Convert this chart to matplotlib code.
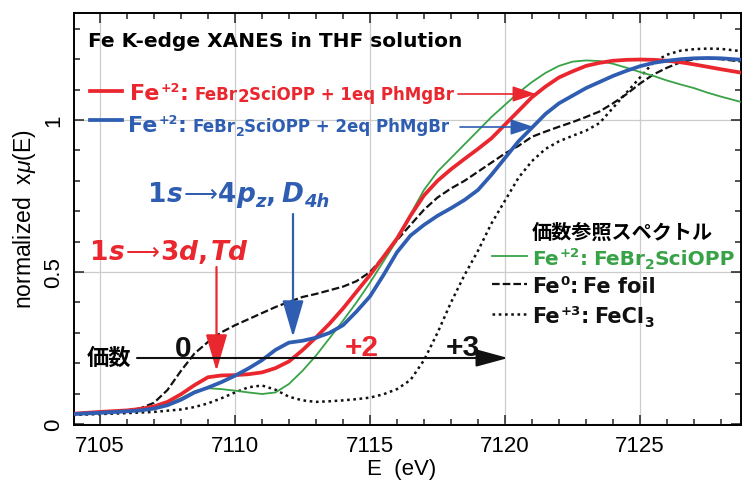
import matplotlib
matplotlib.use("Agg")
import matplotlib.pyplot as plt
from matplotlib.transforms import offset_copy
from matplotlib.ticker import MultipleLocator, FixedLocator
from matplotlib.lines import Line2D
from matplotlib.patches import ArrowStyle

plt.rcParams['font.family'] = ['Liberation Sans', 'DejaVu Sans']
plt.rcParams['lines.scale_dashes'] = False
plt.rcParams['mathtext.fontset'] = 'custom'
plt.rcParams['mathtext.rm'] = 'Liberation Sans'
plt.rcParams['mathtext.it'] = 'Liberation Sans:italic'
plt.rcParams['mathtext.bf'] = 'Liberation Sans:bold'

# ---------------- data ----------------
energy = [7104.0, 7105.0, 7106.0, 7106.5, 7107.0, 7107.5, 7108.0, 7108.5, 7109.0, 7109.5,
          7110.0, 7110.5, 7111.0, 7111.5, 7112.0, 7112.5, 7113.0, 7113.5, 7114.0, 7114.5,
          7115.0, 7115.5, 7116.0, 7116.5, 7117.0, 7117.5, 7118.0, 7118.5, 7119.0, 7119.5,
          7120.0, 7120.5, 7121.0, 7121.5, 7122.0, 7122.5, 7123.0, 7123.5, 7124.0, 7124.5,
          7125.0, 7125.5, 7126.0, 7126.5, 7127.0, 7127.5, 7128.0, 7128.8]

mu_1eq = [0.034, 0.040, 0.045, 0.050, 0.058, 0.073, 0.098, 0.128, 0.154, 0.160,
          0.161, 0.164, 0.170, 0.184, 0.206, 0.243, 0.285, 0.330, 0.380, 0.435,
          0.490, 0.550, 0.610, 0.685, 0.752, 0.800, 0.838, 0.872, 0.905, 0.940,
          0.985, 1.030, 1.075, 1.110, 1.140, 1.160, 1.178, 1.188, 1.195, 1.198,
          1.199, 1.198, 1.195, 1.190, 1.183, 1.175, 1.167, 1.155]

mu_2eq = [0.033, 0.037, 0.042, 0.045, 0.051, 0.062, 0.080, 0.104, 0.120, 0.138,
          0.159, 0.183, 0.210, 0.244, 0.268, 0.274, 0.284, 0.300, 0.325, 0.370,
          0.420, 0.490, 0.565, 0.620, 0.655, 0.685, 0.710, 0.737, 0.770, 0.820,
          0.875, 0.930, 0.975, 1.020, 1.055, 1.080, 1.105, 1.125, 1.145, 1.162,
          1.177, 1.188, 1.195, 1.200, 1.203, 1.204, 1.203, 1.198]

mu_sciopp = [0.034, 0.038, 0.043, 0.047, 0.053, 0.066, 0.085, 0.108, 0.118, 0.115,
             0.110, 0.104, 0.099, 0.104, 0.132, 0.175, 0.225, 0.282, 0.340, 0.400,
             0.465, 0.535, 0.605, 0.690, 0.770, 0.830, 0.875, 0.920, 0.965, 1.010,
             1.050, 1.090, 1.125, 1.155, 1.178, 1.192, 1.196, 1.194, 1.185, 1.172,
             1.158, 1.145, 1.130, 1.117, 1.105, 1.090, 1.077, 1.058]

mu_foil = [0.034, 0.038, 0.044, 0.052, 0.070, 0.112, 0.175, 0.232, 0.270, 0.302,
           0.325, 0.345, 0.365, 0.385, 0.402, 0.418, 0.428, 0.440, 0.452, 0.470,
           0.500, 0.550, 0.605, 0.655, 0.705, 0.745, 0.775, 0.800, 0.830, 0.860,
           0.890, 0.915, 0.945, 0.962, 0.978, 0.993, 1.010, 1.028, 1.055, 1.085,
           1.120, 1.150, 1.172, 1.190, 1.200, 1.203, 1.200, 1.192]

mu_fecl3 = [0.030, 0.033, 0.036, 0.038, 0.040, 0.044, 0.048, 0.056, 0.068, 0.085,
            0.104, 0.121, 0.127, 0.113, 0.090, 0.078, 0.073, 0.075, 0.078, 0.082,
            0.087, 0.098, 0.115, 0.145, 0.210, 0.300, 0.400, 0.490, 0.570, 0.660,
            0.735, 0.810, 0.865, 0.905, 0.930, 0.948, 0.965, 0.990, 1.040, 1.090,
            1.140, 1.190, 1.215, 1.228, 1.233, 1.235, 1.234, 1.226]

x_major = [7105, 7110, 7115, 7120, 7125]
y_major = [0, 0.5, 1]
y_labels = ['0', '0.5', '1']

# ---------------- style ----------------
RED = '#ea262e'
BLUE = '#2e5db2'
GREEN = '#38a247'
BLACK = '#111111'
DEJ = 'DejaVu Sans'
CJK = ['Noto Sans CJK JP', 'DejaVu Sans']

W, H = 742, 485
fig = plt.figure(figsize=(W / 100, H / 100), dpi=100)
ax = fig.add_axes([74 / W, 1 - 426 / H, (741 - 74) / W, (426 - 14) / H])

ax.plot(energy, mu_fecl3, color=BLACK, lw=1.8, dashes=(1.9, 2.6), zorder=3)
ax.plot(energy, mu_foil, color=BLACK, lw=1.6, dashes=(5.5, 2.2), zorder=3)
ax.plot(energy, mu_sciopp, color=GREEN, lw=1.3, zorder=4)
ax.plot(energy, mu_1eq, color=RED, lw=2.7, zorder=5)
ax.plot(energy, mu_2eq, color=BLUE, lw=2.7, zorder=6)

ax.set_xlim(7104.04, 7128.74)
ax.set_ylim(-0.003, 1.352)
ax.xaxis.set_major_locator(FixedLocator(x_major))
ax.xaxis.set_minor_locator(MultipleLocator(1))
ax.yaxis.set_major_locator(FixedLocator(y_major))
ax.yaxis.set_minor_locator(MultipleLocator(0.1))
ax.set_yticklabels(y_labels, rotation=90, va='center')
ax.grid(True, which='major', color='#cccccc', lw=0.9, zorder=0)
ax.set_axisbelow(True)
ax.tick_params(which='both', direction='in', top=True, right=True, width=1.1, color='#222222')
ax.tick_params(which='major', length=7.5, labelsize=16, pad=7)
ax.tick_params(which='minor', length=4)
for sp in ax.spines.values():
    sp.set_linewidth(1.4)

fig.text(402 / W, 1 - 470 / H, 'E  (eV)', ha='center', va='center', fontsize=16)
fig.text(25 / W, 1 - 219 / H, 'normalized  x$\\mathit{\\mu}$(E)', rotation=90,
         ha='center', va='center', fontsize=16.5)


def fp(x, y):
    return (x / W, 1 - y / H)


renderer = fig.canvas.get_renderer()


def chain(x, y, pieces, **common):
    dx = 0.0
    for s, kw in pieces:
        kw = {**common, **kw}
        dy = kw.pop('dy', 0.0)
        dx += kw.pop('gap', 0.0)
        tr = offset_copy(fig.transFigure, fig=fig, x=dx, y=dy, units='dots')
        t = fig.text(x / W, 1 - y / H, s, transform=tr, ha='left', va='baseline', **kw)
        dx += t.get_window_extent(renderer=renderer).width


def hline(x1, x2, y, **kw):
    fig.add_artist(Line2D([x1 / W, x2 / W], [1 - y / H, 1 - y / H], transform=fig.transFigure, **kw))


def arrow(x1, y1, x2, y2, color, lw, hl, hw, ms):
    ax.annotate('', xy=fp(x2, y2), xytext=fp(x1, y1), xycoords='figure fraction',
                textcoords='figure fraction', zorder=8,
                arrowprops=dict(arrowstyle=ArrowStyle('-|>', head_length=hl, head_width=hw),
                                mutation_scale=ms, lw=lw, color=color, shrinkA=0, shrinkB=0))


# title
fig.text(88 / W, 1 - 47 / H, 'Fe K-edge XANES in THF solution', family=DEJ, weight='bold',
         fontsize=14.5, va='baseline', color='black')

# sample legend (top)
hline(90, 122, 92, color=RED, lw=2.7)
chain(130, 100, [('Fe', dict(size=16)), ('+2', dict(size=9, dy=8, gap=1)), (':', dict(size=16)),
                 ('FeBr', dict(size=12, gap=6)), ('2', dict(size=12, dy=-2)),
                 ('SciOPP + 1eq PhMgBr', dict(size=12))],
      family=DEJ, weight='bold', color=RED)
hline(90, 122, 121, color=BLUE, lw=2.7)
chain(128, 132, [('Fe', dict(size=16)), ('+2', dict(size=9, dy=8, gap=1)), (':', dict(size=16)),
                 ('FeBr', dict(size=12, gap=6)), ('2', dict(size=9, dy=-4)),
                 ('SciOPP + 2eq PhMgBr', dict(size=12))],
      family=DEJ, weight='bold', color=BLUE)
arrow(458, 95, 536, 95, RED, 1.2, 0.9, 0.3, 16)
arrow(460, 128, 534, 128, BLUE, 1.2, 0.9, 0.3, 16)

# transition labels
chain(148, 202, [('1', dict()), ('s', dict(style='italic')), ('⟶', dict(weight='normal', size=17, gap=1)),
                 ('4', dict(gap=1)), ('p', dict(style='italic')), ('z', dict(style='italic', size=13, dy=-5)),
                 (',', dict()), ('D', dict(style='italic', gap=6)),
                 ('4h', dict(style='italic', size=13, dy=-5))],
      family=DEJ, weight='bold', size=19, color=BLUE)
chain(90, 260, [('1', dict()), ('s', dict(style='italic')), ('⟶', dict(weight='normal', size=17, gap=1)),
                ('3', dict(gap=1)), ('d', dict(style='italic')), (',', dict()),
                ('Td', dict(style='italic', gap=3))],
      family=DEJ, weight='bold', size=19, color=RED)
arrow(293, 215, 293, 338, BLUE, 1.6, 1.2, 0.35, 19)
arrow(216.5, 268, 216.5, 372, RED, 1.6, 1.2, 0.35, 19)

# valence arrow
arrow(137, 359, 508, 359, BLACK, 1.5, 1.1, 0.3, 18)
fig.text(87 / W, 1 - 358 / H, '価数', family=CJK, weight='bold', fontsize=16, va='center', ha='left')
fig.text(183 / W, 1 - 357 / H, '0', weight='bold', fontsize=21.5, ha='center', va='baseline', color=BLACK)
fig.text(362 / W, 1 - 356 / H, '+2', weight='bold', fontsize=21.5, ha='center', va='baseline', color=RED)
fig.text(463 / W, 1 - 356 / H, '+3', weight='bold', fontsize=21.5, ha='center', va='baseline', color=BLACK)

# reference legend
fig.text(532 / W, 1 - 232 / H, '価数参照スペクトル', family=CJK, weight='bold', fontsize=14.5,
         va='center', ha='left')
hline(492, 527, 257, color=GREEN, lw=1.3)
chain(532, 265, [('Fe', dict()), ('+2', dict(size=9.5, dy=8, gap=1)), (':', dict()),
                 ('FeBr', dict(gap=5)), ('2', dict(size=10, dy=-4)), ('SciOPP', dict())],
      family=DEJ, weight='bold', size=14.5, color=GREEN)
hline(492, 527, 285, color=BLACK, lw=1.6, dashes=(5.5, 2.2))
chain(532, 293, [('Fe', dict()), ('0', dict(size=9.5, dy=8, gap=1)), (':', dict()),
                 ('Fe foil', dict(gap=5))],
      family=DEJ, weight='bold', size=15, color=BLACK)
hline(492, 527, 315, color=BLACK, lw=1.8, dashes=(1.9, 2.6))
chain(532, 323, [('Fe', dict()), ('+3', dict(size=9.5, dy=8, gap=1)), (':', dict()),
                 ('FeCl', dict(gap=5)), ('3', dict(size=10, dy=-4))],
      family=DEJ, weight='bold', size=15, color=BLACK)

fig.savefig('out.png', dpi=100)
